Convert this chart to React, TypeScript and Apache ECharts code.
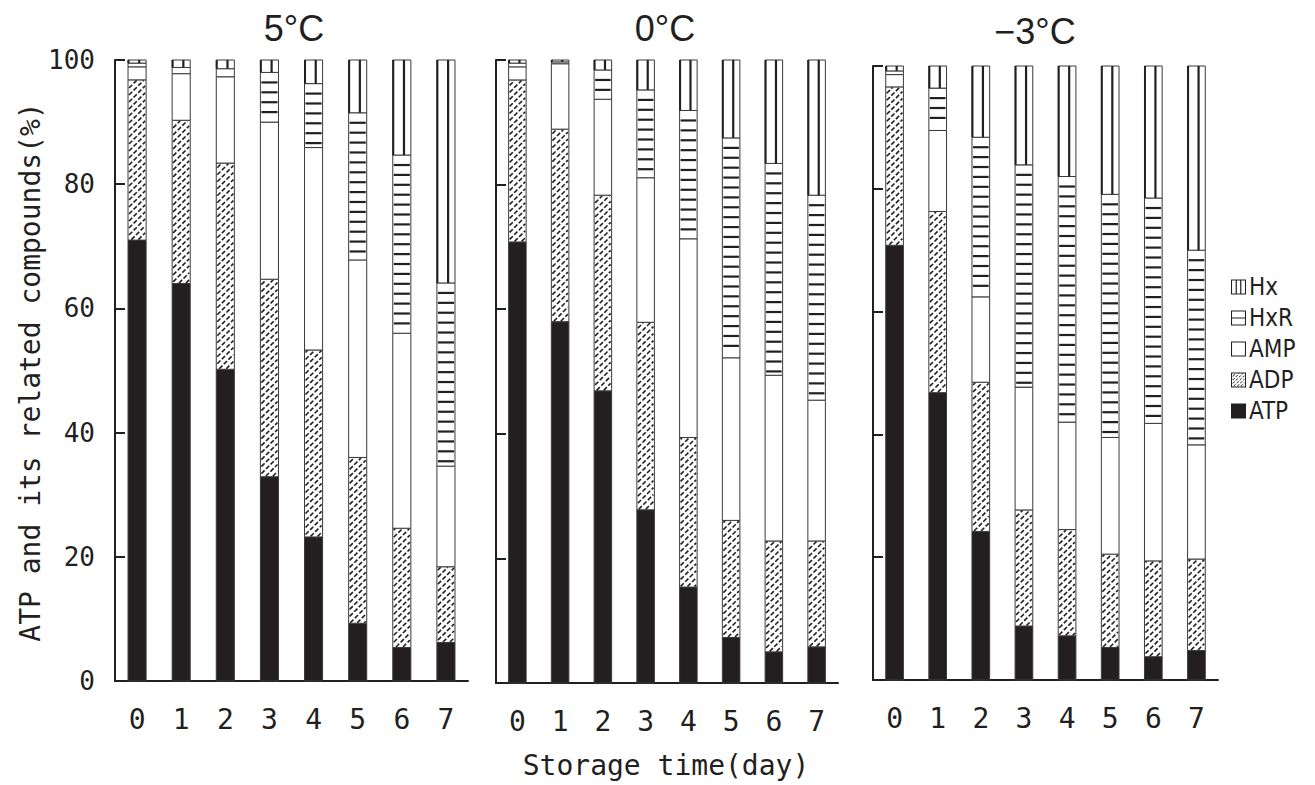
import React, { useEffect, useRef } from 'react';
import * as echarts from 'echarts';

// ---- data (percent of total ATP-related compounds) ----
const days = ['0', '1', '2', '3', '4', '5', '6', '7'];
const compounds = ['ATP', 'ADP', 'AMP', 'HxR', 'Hx'];
const legendOrder = ['Hx', 'HxR', 'AMP', 'ADP', 'ATP'];
const panelTitles = ['5°C', '0°C', '−3°C'];

const atp5C = [71.0, 64.0, 50.2, 32.9, 23.2, 9.3, 5.4, 6.2];
const adp5C = [25.8, 26.3, 33.2, 31.8, 30.1, 26.7, 19.2, 12.2];
const amp5C = [2.1, 7.5, 13.9, 25.3, 32.6, 31.8, 31.4, 16.2];
const hxr5C = [0.6, 1.0, 1.3, 8.0, 10.3, 23.7, 28.7, 29.5];
const hx5C = [0.5, 1.2, 1.4, 2.0, 3.8, 8.5, 15.3, 35.9];

const atp0C = [70.8, 58.0, 46.9, 27.8, 15.4, 7.3, 5.0, 5.8];
const adp0C = [26.0, 30.9, 31.4, 30.1, 24.0, 18.8, 17.8, 17.0];
const amp0C = [2.1, 10.5, 15.4, 23.2, 31.9, 26.1, 26.6, 22.6];
const hxr0C = [0.6, 0.3, 4.7, 14.1, 20.6, 35.3, 34.0, 32.9];
const hx0C = [0.5, 0.3, 1.6, 4.8, 8.1, 12.5, 16.6, 21.7];

const atpM3C = [70.8, 46.8, 24.2, 8.8, 7.2, 5.3, 3.8, 4.8];
const adpM3C = [25.8, 29.5, 24.3, 18.9, 17.3, 15.2, 15.6, 14.9];
const ampM3C = [2.0, 13.2, 13.9, 20.0, 17.5, 19.0, 22.4, 18.6];
const hxrM3C = [0.6, 6.9, 26.0, 36.2, 40.0, 39.6, 36.7, 31.7];
const hxM3C = [0.8, 3.6, 11.6, 16.1, 18.0, 20.9, 21.5, 30.0];

const yMin = 0;
const yMax = 100;
const yInterval = 20;

// ---- styling ----
const INK = '#231f20';
const MONO = "'DejaVu Sans Mono', 'Liberation Mono', monospace";
const SANS = "'Liberation Sans', Arial, sans-serif";
const NARROW = "'Liberation Sans Narrow', 'DejaVu Sans Condensed', 'Liberation Sans', sans-serif";

const panelData = [
  [atp5C, adp5C, amp5C, hxr5C, hx5C],
  [atp0C, adp0C, amp0C, hxr0C, hx0C],
  [atpM3C, adpM3C, ampM3C, hxrM3C, hxM3C],
];

const grids = [
  { left: 115, top: 60, width: 353, height: 621 },
  { left: 496, top: 60, width: 342, height: 623 },
  { left: 873, top: 66, width: 345, height: 614 },
];
const titlePos = [
  [294, 28],
  [665, 28],
  [1035, 31],
];

const kinds = ['solid', 'hatch', 'white', 'hlines', 'vlines'];

function makeRenderItem(kind: string) {
  return (params: any, api: any) => {
    const i = api.value(0);
    const y0 = api.value(1);
    const y1 = api.value(2);
    const pb = api.coord([i, y0]);
    const pt = api.coord([i, y1]);
    const bw = api.size([1, 0])[0] * 0.41;
    const L = pb[0] - bw / 2;
    const T = pt[1];
    const H = pb[1] - pt[1];
    const children: any[] = [];
    children.push({
      type: 'rect',
      shape: { x: L, y: T, width: bw, height: H },
      style: { fill: kind === 'solid' ? INK : '#fff', stroke: '#3a3a3a', lineWidth: 1 },
    });
    if (kind === 'hatch') {
      const s = 7;
      const l = L + 1, r = L + bw - 1, t = T + 0.5, b = T + H - 0.5;
      const cStart = Math.ceil((l + t) / s) * s;
      for (let c = cStart; c <= r + b; c += s) {
        const xa = Math.max(l, c - b);
        const xb = Math.min(r, c - t);
        if (xb - xa < 0.8) continue;
        children.push({
          type: 'line',
          shape: { x1: xa, y1: c - xa, x2: xb, y2: c - xb },
          style: { stroke: INK, lineWidth: 1.6, lineDash: [4.5, 2] },
        });
      }
    } else if (kind === 'hlines') {
      for (let y = T + 10; y < T + H - 3; y += 9.9) {
        children.push({
          type: 'line',
          shape: { x1: L + 1, y1: y, x2: L + bw - 1, y2: y },
          style: { stroke: INK, lineWidth: 2.2 },
        });
      }
    } else if (kind === 'vlines') {
      const xv = L + bw * 0.62;
      children.push({
        type: 'line',
        shape: { x1: xv, y1: T, x2: xv, y2: T + H },
        style: { stroke: INK, lineWidth: 2.2 },
      });
      children.push({
        type: 'line',
        shape: { x1: L + 0.5, y1: T, x2: L + 0.5, y2: T + H },
        style: { stroke: INK, lineWidth: 2 },
      });
    }
    return { type: 'group', children };
  };
}

// ---- legend icons ----
const FRAME = 'M0 0H100V100H0Z M7 7V93H93V7Z ';
function hatchIcon() {
  let d = FRAME;
  const t = 7;
  for (let c = 34; c <= 176; c += 24) {
    const xa = Math.max(8, c - 92);
    const xb = Math.min(92 - t, c - 8);
    for (let x = xa; x < xb; x += 20) {
      const x2 = Math.min(x + 14, xb);
      if (x2 - x < 2) continue;
      d += `M${x} ${c - x}L${x2} ${c - x2}L${x2 + t} ${c - x2}L${x + t} ${c - x}Z `;
    }
  }
  return 'path://' + d;
}
const ICONS: Record<string, string> = {
  Hx: 'path://' + FRAME + 'M31 7H39V93H31Z M61 7H69V93H61Z',
  HxR: 'path://' + FRAME + 'M7 46H93V54H7Z',
  AMP: 'path://' + FRAME,
  ADP: hatchIcon(),
  ATP: 'path://M0 0H100V100H0Z',
};

function buildOption() {
  const xAxis: any[] = [];
  const yAxis: any[] = [];
  const series: any[] = [];
  grids.forEach((g, p) => {
    xAxis.push({
      type: 'category',
      gridIndex: p,
      data: days,
      boundaryGap: true,
      axisLine: { show: true, lineStyle: { color: INK, width: 2 } },
      axisTick: { show: false },
      axisLabel: { show: true, color: INK, fontSize: 28, fontFamily: MONO, margin: 24 },
      splitLine: { show: false },
    });
    yAxis.push({
      type: 'value',
      gridIndex: p,
      min: yMin,
      max: yMax,
      interval: yInterval,
      axisLine: { show: true, lineStyle: { color: INK, width: 2 } },
      axisTick: { show: true, inside: true, length: 10, lineStyle: { color: INK, width: 2 } },
      axisLabel: { show: p === 0, color: INK, fontSize: 26, fontFamily: MONO, margin: 20 },
      splitLine: { show: false },
    });
    const vals = panelData[p];
    compounds.forEach((name, k) => {
      const data = days.map((_, i) => {
        let base = 0;
        for (let j = 0; j < k; j++) base += vals[j][i];
        return [i, base, base + vals[k][i]];
      });
      series.push({
        type: 'custom',
        name,
        xAxisIndex: p,
        yAxisIndex: p,
        renderItem: makeRenderItem(kinds[k]),
        encode: { x: 0, y: [1, 2] },
        itemStyle: { color: INK },
        data,
        silent: true,
      });
    });
  });

  const graphic: any[] = [];
  panelTitles.forEach((t, p) => {
    graphic.push({
      type: 'text',
      x: titlePos[p][0],
      y: titlePos[p][1],
      style: {
        text: t,
        fontSize: 36,
        fontFamily: SANS,
        fill: INK,
        align: 'center',
        verticalAlign: 'middle',
        textAlign: 'center',
        textVerticalAlign: 'middle',
      },
    });
  });
  graphic.push({
    type: 'text',
    x: 30,
    y: 372,
    rotation: Math.PI / 2,
    style: {
      text: 'ATP and its related compounds(%)',
      fontSize: 28,
      fontFamily: MONO,
      fill: INK,
      align: 'center',
      verticalAlign: 'middle',
      textAlign: 'center',
      textVerticalAlign: 'middle',
    },
  });
  graphic.push({
    type: 'text',
    x: 666,
    y: 765,
    style: {
      text: 'Storage time(day)',
      fontSize: 28,
      fontFamily: MONO,
      fill: INK,
      align: 'center',
      verticalAlign: 'middle',
      textAlign: 'center',
      textVerticalAlign: 'middle',
    },
  });

  return {
    animation: false,
    backgroundColor: '#fff',
    textStyle: { fontFamily: MONO },
    grid: grids.map((g) => ({ ...g, containLabel: false, outerBoundsMode: 'none' })),
    xAxis,
    yAxis,
    series,
    legend: {
      orient: 'vertical',
      left: 1226,
      top: 270,
      itemWidth: 15,
      itemHeight: 15,
      itemGap: 7,
      selectedMode: false,
      data: legendOrder.map((n) => ({ name: n, icon: ICONS[n] })),
      itemStyle: { color: INK, borderWidth: 0 },
      textStyle: { fontSize: 24, color: INK, fontFamily: NARROW, padding: [0, 0, 0, -2] },
    },
    graphic,
  };
}

export default function App() {
  const ref = useRef<HTMLDivElement>(null);
  useEffect(() => {
    if (!ref.current) return;
    const chart = echarts.init(ref.current, undefined, { renderer: 'svg' });
    chart.setOption(buildOption() as any);
    return () => {
      chart.dispose();
    };
  }, []);
  return (
    <div
      ref={ref}
      style={{ position: 'absolute', left: 0, top: 0, width: 1315, height: 785, background: '#fff' }}
    />
  );
}
